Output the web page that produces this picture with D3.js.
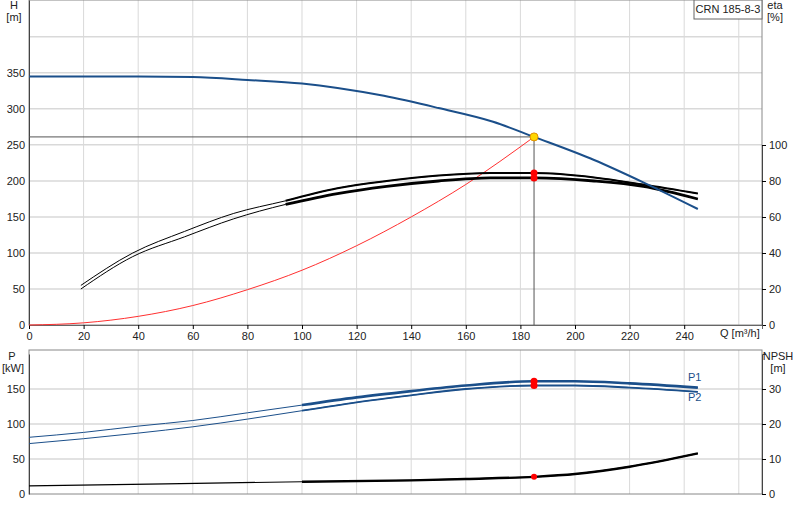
<!DOCTYPE html><html><head><meta charset="utf-8">
<script src="https://cdn.jsdelivr.net/npm/d3@7"></script>
<style>body{margin:0;background:#fff}text{font-family:Arial,"Liberation Sans",sans-serif;font-size:11px;fill:#222}</style>
</head><body><svg id="c" width="800" height="520"></svg><script>
const qH=[0,20,40,60,80,100,113,130,150,170,185,207,225,245];
const hVals=[345,345,345,344,340,335,329,318,301,282,261,229,198,161];
const qEta=[19,38,57,75,94,113,131,150,169,185,207,225,245];
const eta1=[22,40,52,62,69,76,80,83,84.4,84.4,82,78,73];
const eta2=[20,38,49,59,67,73,77,80,81.7,81.7,80,77,70];
const qSys=[0,20,40,60,80,100,120,140,160,185];
const hSys=[0,3,12,27,49,76,110,150,195,261];
const qP=[0,20,40,60,80,100,120,140,160,185,200,220,245];
const p1=[81,88,97,105,116,127,138,147,155,161,161,158,152];
const p2=[72,79,87,96,107,119,131,141,150,155,155,152,146];
const qN=[0,50,100,140,160,185,200,220,245];
const npsh=[2.3,2.9,3.5,3.9,4.3,4.9,5.7,7.8,11.6];
const qTicks=[0,20,40,60,80,100,120,140,160,180,200,220,240];
const hTicks=[0,50,100,150,200,250,300,350];
const etaTicks=[0,20,40,60,80,100];
const pTicks=[0,50,100,150];
const nTicks=[0,10,20,30];
const duty={q:185,h:261,e1:84.4,e2:81.7,p1:161,p2:155,n:4.9};

const svg=d3.select("#c");
const L=29,R=762;
const x=d3.scaleLinear().domain([0,268.5]).range([L,R]);
const yH=d3.scaleLinear().domain([0,451]).range([325,0]);
const yE=d3.scaleLinear().domain([0,100]).range([325,145]);
const yP=d3.scaleLinear().domain([0,200]).range([494,354]);
const yN=d3.scaleLinear().domain([0,40]).range([494,354]);
const grid="#d9d9d9",blue="#1b4f8a";
function panel(y0,y1,hvals,yS){
  const g=svg.append("g");
  d3.range(20,268,20).forEach(q=>g.append("line").attr("x1",x(q)).attr("x2",x(q)).attr("y1",y0).attr("y2",y1).attr("stroke",grid));
  hvals.forEach(v=>g.append("line").attr("x1",L).attr("x2",R).attr("y1",yS(v)).attr("y2",yS(v)).attr("stroke",grid).attr("stroke-width",1.5));
  g.append("rect").attr("x",L).attr("y",y0).attr("width",R-L).attr("height",y1-y0).attr("fill","none").attr("stroke","#888");
}
panel(0,325,[50,100,150,200,250,300,350,400],yH);
panel(350,494,[50,100,150],yP);
// axes
svg.append("g").attr("transform",`translate(${L},0)`).call(d3.axisLeft(yH).tickValues(hTicks).tickSize(0).tickPadding(4)).call(g=>g.select(".domain").attr("stroke","#444"));
svg.append("g").attr("transform",`translate(${R},0)`).call(d3.axisRight(yE).tickValues(etaTicks).tickSize(4)).call(g=>g.select(".domain").attr("stroke","#444"));
svg.append("g").attr("transform",`translate(0,325)`).call(d3.axisBottom(x).tickValues(qTicks).tickSize(4)).call(g=>g.select(".domain").attr("stroke","#666"));
svg.append("g").attr("transform",`translate(${L},0)`).call(d3.axisLeft(yP).tickValues(pTicks).tickSize(0).tickPadding(4)).call(g=>g.select(".domain").attr("stroke","#444"));
svg.append("g").attr("transform",`translate(${R},0)`).call(d3.axisRight(yN).tickValues(nTicks).tickSize(4)).call(g=>g.select(".domain").attr("stroke","#444"));
svg.selectAll(".tick text").style("font-size","11px").attr("fill","#222");
// labels
const T=(t,xx,yy,a,c)=>svg.append("text").attr("x",xx).attr("y",yy).attr("text-anchor",a||"middle").style("fill",c||"#222").text(t);
T("H",14,9);T("[m]",14,21);T("eta",775,9);T("[%]",775,21);
T("Q [m³/h]",720,337,"start");
T("P",12,360);T("[kW]",13,372);T("NPSH",778,360);T("[m]",778,372);
svg.append("rect").attr("x",694).attr("y",0).attr("width",68).attr("height",19).attr("fill","#fff").attr("stroke","#666");
T("CRN 185-8-3",728,13);
T("P1",688,381,"start",blue);T("P2",688,401,"start",blue);
// curves
function curve(qs,vs,yS,col,w,from,thin){
  const pts=qs.map((q,i)=>[x(q),yS(vs[i])]);
  const ln=d3.line().curve(d3.curveMonotoneX);
  svg.append("path").attr("d",ln(pts)).attr("fill","none").attr("stroke",col).attr("stroke-width",thin||1);
  if(from!=null){const p=pts.filter((d,i)=>qs[i]>=from);svg.append("path").attr("d",ln(p)).attr("fill","none").attr("stroke",col).attr("stroke-width",w);}
}
// duty lines
svg.append("line").attr("x1",L).attr("x2",x(duty.q)).attr("y1",yH(duty.h)).attr("y2",yH(duty.h)).attr("stroke","#555");
svg.append("line").attr("x1",x(duty.q)).attr("x2",x(duty.q)).attr("y1",yH(duty.h)).attr("y2",325).attr("stroke","#555");
curve(qSys,hSys,yH,"#ff3030",0.8);
curve(qEta,eta1,yE,"#000",2,94,1);
curve(qEta,eta2,yE,"#000",2.8,94,1);
curve(qH,hVals,yH,blue,2.2,null,2);
curve(qP,p1,yP,blue,2.6,94,1);
curve(qP,p2,yP,blue,1.8,94,1);
curve(qN,npsh,yN,"#000",2.4,94,1.2);
const dot=(xx,yy,r,f)=>svg.append("circle").attr("cx",xx).attr("cy",yy).attr("r",r).attr("fill",f).attr("stroke",f=="#ffd700"?"#e09000":"none");
dot(x(duty.q),yE(duty.e1),3.5,"red");dot(x(duty.q),yE(duty.e2),3.5,"red");
dot(x(duty.q),yP(duty.p1),3.5,"red");dot(x(duty.q),yP(duty.p2),3.5,"red");
dot(x(duty.q),yN(duty.n),3,"red");
dot(x(duty.q),yH(duty.h),4,"#ffd700");
</script></body></html>
